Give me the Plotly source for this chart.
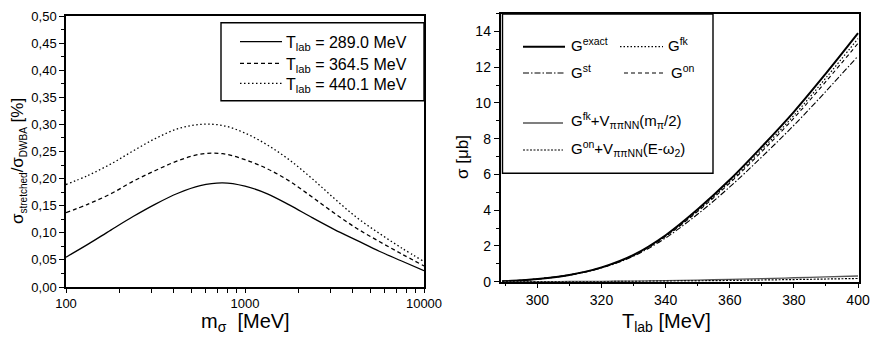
import plotly.graph_objects as go

W, H = 872, 349
FONT = "Liberation Sans, Arial, sans-serif"

# ---------------- Left panel data ----------------
m_sigma = [100, 133, 178, 237, 316, 422, 562, 750, 1000, 1334, 1778, 2371, 3162, 4217, 5623, 7499, 10000]
ratio_289 = [0.055, 0.079, 0.105, 0.130, 0.153, 0.173, 0.187, 0.192, 0.186, 0.172, 0.151, 0.128, 0.106, 0.086, 0.066, 0.048, 0.030]
ratio_364 = [0.137, 0.153, 0.172, 0.195, 0.215, 0.233, 0.245, 0.246, 0.235, 0.218, 0.195, 0.166, 0.136, 0.108, 0.084, 0.061, 0.039]
ratio_440 = [0.189, 0.206, 0.227, 0.251, 0.274, 0.292, 0.300, 0.298, 0.284, 0.262, 0.234, 0.200, 0.163, 0.128, 0.099, 0.072, 0.047]
left_names = ["T<sub>lab</sub> = 289.0 MeV", "T<sub>lab</sub> = 364.5 MeV", "T<sub>lab</sub> = 440.1 MeV"]
left_xtickvals = [100, 200, 300, 400, 500, 600, 700, 800, 900,
                  1000, 2000, 3000, 4000, 5000, 6000, 7000, 8000, 9000, 10000]
left_xticktext = ["100", "", "", "", "", "", "", "", "",
                  "1000", "", "", "", "", "", "", "", "", "10000"]

# ---------------- Right panel data ----------------
t_lab = [289, 295, 300, 310, 320, 330, 340, 350, 360, 370, 380, 390, 400]
g_exact = [0.02, 0.08, 0.15, 0.38, 0.80, 1.50, 2.60, 4.05, 5.70, 7.55, 9.50, 11.65, 13.90]
g_fk = [0.02, 0.08, 0.15, 0.38, 0.79, 1.48, 2.56, 3.98, 5.60, 7.40, 9.30, 11.40, 13.60]
g_on = [0.02, 0.08, 0.15, 0.38, 0.79, 1.47, 2.53, 3.93, 5.52, 7.28, 9.15, 11.20, 13.33]
g_st = [0.02, 0.08, 0.15, 0.37, 0.77, 1.43, 2.45, 3.78, 5.30, 6.98, 8.75, 10.65, 12.62]
g_fk_v = [0.0, 0.0, 0.005, 0.01, 0.02, 0.035, 0.06, 0.09, 0.13, 0.17, 0.22, 0.27, 0.32]
g_on_v = [0.0, 0.0, 0.003, 0.006, 0.01, 0.02, 0.035, 0.05, 0.07, 0.095, 0.12, 0.15, 0.18]
right_names = ["G<sup>exact</sup>", "G<sup>fk</sup>", "G<sup>st</sup>", "G<sup>on</sup>",
               "G<sup>fk</sup>+V<sub>ππNN</sub>(m<sub>π</sub>/2)",
               "G<sup>on</sup>+V<sub>ππNN</sub>(E-ω<sub>2</sub>)"]


def px(p):
    return p / W


def py(p):
    return 1 - p / H


fig = go.Figure()

# left traces
left_styles = [("solid", 1.3, "black"), ("4px,3px", 1.3, "black"), ("1.5px,2.5px", 1.3, "black")]
for ys, name, (dash, w, c) in zip([ratio_289, ratio_364, ratio_440], left_names, left_styles):
    fig.add_trace(go.Scatter(x=m_sigma, y=ys, mode="lines", name=name, line_shape="spline",
                             line=dict(color=c, width=w, dash=dash),
                             xaxis="x", yaxis="y", showlegend=False))

# right traces
right_series = [g_exact, g_fk, g_st, g_on, g_fk_v, g_on_v]
right_styles = [("solid", 2.0, "black"), ("1.5px,2px", 1.2, "black"),
                ("6px,2px,1.5px,2px", 1.1, "black"), ("4px,3px", 1.1, "black"),
                ("solid", 1.3, "#555555"), ("2px,1.5px", 1.2, "black")]
for ys, name, (dash, w, c) in zip(right_series, right_names, right_styles):
    fig.add_trace(go.Scatter(x=t_lab, y=ys, mode="lines", name=name, line_shape="spline",
                             line=dict(color=c, width=w, dash=dash),
                             xaxis="x2", yaxis="y2", showlegend=False))

axis_common = dict(showline=True, linecolor="black", linewidth=1.5, mirror=True,
                   ticks="outside", tickcolor="black", tickwidth=1.2, showgrid=False,
                   zeroline=False, automargin=False,
                   tickfont=dict(family=FONT, size=13, color="black"))

fig.update_layout(
    template="none",
    width=W, height=H, autosize=False,
    margin=dict(l=0, r=0, t=0, b=0, pad=0),
    paper_bgcolor="white", plot_bgcolor="white",
    separators=",.",
    showlegend=False,
    font=dict(family=FONT, color="black"),
    xaxis=dict(domain=[px(66), px(424)], anchor="y", type="log", range=[2, 4],
               tickvals=left_xtickvals, ticktext=left_xticktext, ticklen=4, **axis_common),
    yaxis=dict(domain=[py(287), py(16)], anchor="x", range=[0, 0.5], dtick=0.05,
               tickformat=".2f", ticklen=5,
               minor=dict(dtick=0.025, ticks="outside", ticklen=3, tickcolor="black"),
               **axis_common),
    xaxis2=dict(domain=[px(500.5), px(859)], anchor="y2", range=[288.5, 400.3],
                tick0=300, dtick=20, ticklen=5,
                minor=dict(dtick=10, ticks="outside", ticklen=3, tickcolor="black"),
                **{**axis_common, "tickfont": dict(family=FONT, size=14, color="black")}),
    yaxis2=dict(domain=[py(281.7), py(13.5)], anchor="x2", range=[0, 15], dtick=2, ticklen=5,
                minor=dict(dtick=1, ticks="outside", ticklen=3, tickcolor="black"),
                **{**axis_common, "tickfont": dict(family=FONT, size=14, color="black")}),
)

# axis titles as annotations
small = '<span style="font-size:10px">{}</span>'
ann = [
    dict(text="m<sub>σ</sub>  [MeV]", x=px(245), y=py(322), font=dict(size=20)),
    dict(text="T<sub>lab</sub> [MeV]", x=px(666), y=py(322), font=dict(size=20)),
    dict(text="σ<sub>" + small.format("stretched") + "</sub>/σ<sub>" + small.format("DWBA")
         + "</sub> [%]", x=px(18), y=py(161), textangle=-90, font=dict(size=17)),
    dict(text="σ [μb]", x=px(462), y=py(157), textangle=-90, font=dict(size=17)),
]
for a in ann:
    a.update(xref="paper", yref="paper", showarrow=False, xanchor="center", yanchor="middle")
    a["font"].update(family=FONT, color="black")
    fig.add_annotation(**a)


def draw_legend(box, rows, names, styles, size, dy):
    x0, x1, y0, y1 = box
    fig.add_shape(type="rect", xref="paper", yref="paper", x0=px(x0), x1=px(x1),
                  y0=py(y1), y1=py(y0), line=dict(color="black", width=1.4),
                  fillcolor="white", layer="above")
    for (lx0, lx1, yy, tx), name, (dash, w, c) in zip(rows, names, styles):
        fig.add_shape(type="line", xref="paper", yref="paper", x0=px(lx0), x1=px(lx1),
                      y0=py(yy), y1=py(yy), line=dict(color=c, width=w, dash=dash),
                      layer="above")
        fig.add_annotation(text=name, xref="paper", yref="paper", x=px(tx), y=py(yy + dy),
                           xanchor="left", yanchor="middle", showarrow=False,
                           font=dict(family=FONT, size=size, color="black"))


# left legend
draw_legend((221, 424, 22.7, 100.7),
            [(240, 282, 41.7, 284), (240, 282, 63.3, 284), (240, 282, 83.3, 284)],
            left_names, left_styles, 16, 2)

# right legend (two columns)
draw_legend((502.5, 713, 14, 173.3),
            [(523, 565, 46.7, 569), (620, 663, 46.7, 666), (523, 565, 73, 569),
             (624, 665, 73, 669), (523, 563, 123, 569), (523, 563, 150, 569)],
            right_names, right_styles, 15, -2)

# remove the default page margin so the figure fills the window exactly
fig.write_html("out.html",
               config={"displayModeBar": False},
               post_script="document.body.style.margin='0';document.body.style.overflow='hidden';")
